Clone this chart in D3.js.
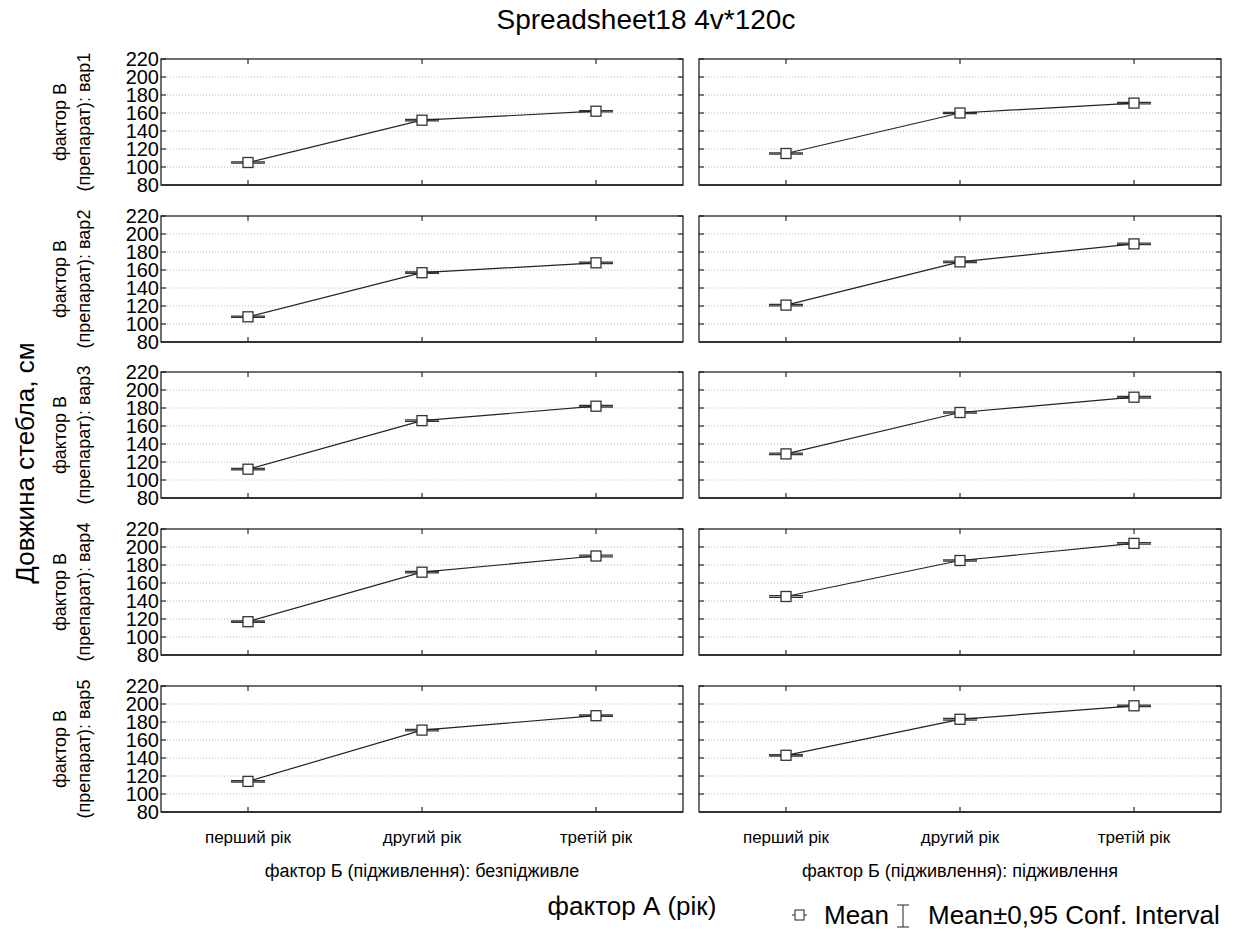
<!DOCTYPE html>
<html><head><meta charset="utf-8">
<script src="https://cdn.jsdelivr.net/npm/d3@7"></script>
<style>body{margin:0;background:#fff}svg{display:block;font-family:"Liberation Sans",Arial,sans-serif}</style>
</head><body><svg id="c" width="1240" height="931"></svg>
<script>
const title = "Spreadsheet18 4v*120c";
const years = ["перший рік", "другий рік", "третій рік"];
const feedLevels = ["безпідживле", "підживлення"];
const drugLevels = ["вар1", "вар2", "вар3", "вар4", "вар5"];
const yTicks = [80, 100, 120, 140, 160, 180, 200, 220];
// means [drug][year], one array per feeding level
const meansNoFeed = [[105, 152, 162], [108, 157, 168], [112, 166, 182], [117, 172, 190], [114, 171, 187]];
const meansFeed   = [[115, 160, 171], [121, 169, 189], [129, 175, 192], [145, 185, 204], [143, 183, 198]];
// half-width of 95% CI
const ciNoFeed = [[0.7, 0.8, 0.7], [0.7, 0.8, 0.8], [0.8, 0.8, 0.9], [0.8, 0.8, 0.9], [0.7, 0.8, 0.8]];
const ciFeed   = [[0.7, 0.8, 0.8], [0.8, 0.9, 0.8], [0.8, 0.8, 0.9], [0.9, 0.8, 0.9], [0.8, 0.9, 0.8]];

const svg = d3.select("#c");
const colX = [161, 699], panelW = 522;
const rowY = [59, 216, 372, 529, 686], panelH = 126;
const allMeans = [meansNoFeed, meansFeed], allCi = [ciNoFeed, ciFeed];

svg.append("text").attr("x", 646).attr("y", 29).attr("text-anchor", "middle")
  .attr("font-size", 28).text(title);

for (let c = 0; c < 2; c++) {
  const x = d3.scalePoint().domain(years).range([colX[c], colX[c] + panelW]).padding(0.5);
  for (let r = 0; r < 5; r++) {
    const y = d3.scaleLinear().domain([80, 220]).range([rowY[r] + panelH, rowY[r]]);
    const g = svg.append("g");
    g.selectAll(".grid").data(yTicks.slice(1, -1)).join("line")
      .attr("x1", colX[c]).attr("x2", colX[c] + panelW)
      .attr("y1", d => y(d)).attr("y2", d => y(d))
      .attr("stroke", "#b8b8b8").attr("stroke-width", 1).attr("stroke-dasharray", "1,2");
    g.selectAll(".ytl").data(yTicks).join("line")
      .attr("x1", colX[c]).attr("x2", colX[c] + 5).attr("y1", d => y(d)).attr("y2", d => y(d))
      .attr("stroke", "#000");
    g.selectAll(".ytr").data(yTicks).join("line")
      .attr("x1", colX[c] + panelW - 5).attr("x2", colX[c] + panelW).attr("y1", d => y(d)).attr("y2", d => y(d))
      .attr("stroke", "#000");
    g.selectAll(".xtt").data(years).join("line")
      .attr("x1", d => x(d)).attr("x2", d => x(d)).attr("y1", rowY[r]).attr("y2", rowY[r] + 5).attr("stroke", "#000");
    g.selectAll(".xtb").data(years).join("line")
      .attr("x1", d => x(d)).attr("x2", d => x(d)).attr("y1", rowY[r] + panelH - 5).attr("y2", rowY[r] + panelH).attr("stroke", "#000");
    g.append("rect").attr("x", colX[c]).attr("y", rowY[r]).attr("width", panelW).attr("height", panelH)
      .attr("fill", "none").attr("stroke", "#111").attr("stroke-width", 1.2);
    g.append("line").attr("x1", colX[c]).attr("x2", colX[c] + panelW)
      .attr("y1", rowY[r] + panelH).attr("y2", rowY[r] + panelH).attr("stroke", "#333").attr("stroke-width", 2);
    if (c === 0) {
      g.selectAll(".ylab").data(yTicks).join("text")
        .attr("x", colX[c] - 2).attr("y", d => y(d) + 7).attr("text-anchor", "end")
        .attr("font-size", 20).text(d => d);
      const cy = rowY[r] + panelH / 2;
      const t = g.append("text").attr("transform", `translate(66,${cy}) rotate(-90)`)
        .attr("text-anchor", "middle").attr("font-size", 18);
      t.append("tspan").attr("x", 0).attr("dy", 0).text("фактор В");
      t.append("tspan").attr("x", 0).attr("dy", 24).text("(препарат): " + drugLevels[r]);
    }
    const m = allMeans[c][r], ci = allCi[c][r];
    const pts = years.map((yr, i) => ({x: x(yr), m: m[i], ci: ci[i]}));
    pts.forEach(p => {
      const lo = y(p.m - p.ci), hi = y(p.m + p.ci);
      g.append("line").attr("x1", p.x).attr("x2", p.x).attr("y1", lo).attr("y2", hi).attr("stroke", "#222").attr("stroke-width", 1);
      [lo, hi].forEach(yy => g.append("line").attr("x1", p.x - 17).attr("x2", p.x + 17)
        .attr("y1", yy).attr("y2", yy).attr("stroke", "#333").attr("stroke-width", 1.3));
    });
    g.append("path").datum(pts).attr("fill", "none").attr("stroke", "#222").attr("stroke-width", 1.2)
      .attr("d", d3.line().x(d => d.x).y(d => y(d.m)));
    g.selectAll(".mk").data(pts).join("rect")
      .attr("x", d => d.x - 5).attr("y", d => y(d.m) - 5).attr("width", 10).attr("height", 10)
      .attr("fill", "#fff").attr("stroke", "#333").attr("stroke-width", 1.3);
    if (r === 4) {
      g.selectAll(".xlab").data(years).join("text")
        .attr("x", d => x(d)).attr("y", 843).attr("text-anchor", "middle").attr("font-size", 17).text(d => d);
      g.append("text").attr("x", colX[c] + panelW / 2).attr("y", 877).attr("text-anchor", "middle")
        .attr("font-size", 18).text("фактор Б (підживлення): " + feedLevels[c]);
    }
  }
}

svg.append("text").attr("transform", "translate(34,463) rotate(-90)").attr("text-anchor", "middle")
  .attr("font-size", 26).text("Довжина стебла, см");
svg.append("text").attr("x", 632).attr("y", 915).attr("text-anchor", "middle")
  .attr("font-size", 26).text("фактор А (рік)");

const lg = svg.append("g");
lg.append("line").attr("x1", 792).attr("x2", 807).attr("y1", 915).attr("y2", 915).attr("stroke", "#222");
lg.append("rect").attr("x", 795).attr("y", 910).attr("width", 9).attr("height", 10).attr("fill", "#fff").attr("stroke", "#222");
lg.append("text").attr("x", 824).attr("y", 924).attr("font-size", 26).text("Mean");
lg.append("line").attr("x1", 903).attr("x2", 903).attr("y1", 905).attr("y2", 927).attr("stroke", "#222");
lg.append("line").attr("x1", 897).attr("x2", 909).attr("y1", 905).attr("y2", 905).attr("stroke", "#222");
lg.append("line").attr("x1", 897).attr("x2", 909).attr("y1", 927).attr("y2", 927).attr("stroke", "#222");
lg.append("text").attr("x", 928).attr("y", 924).attr("font-size", 26).text("Mean±0,95 Conf. Interval");
</script></body></html>
